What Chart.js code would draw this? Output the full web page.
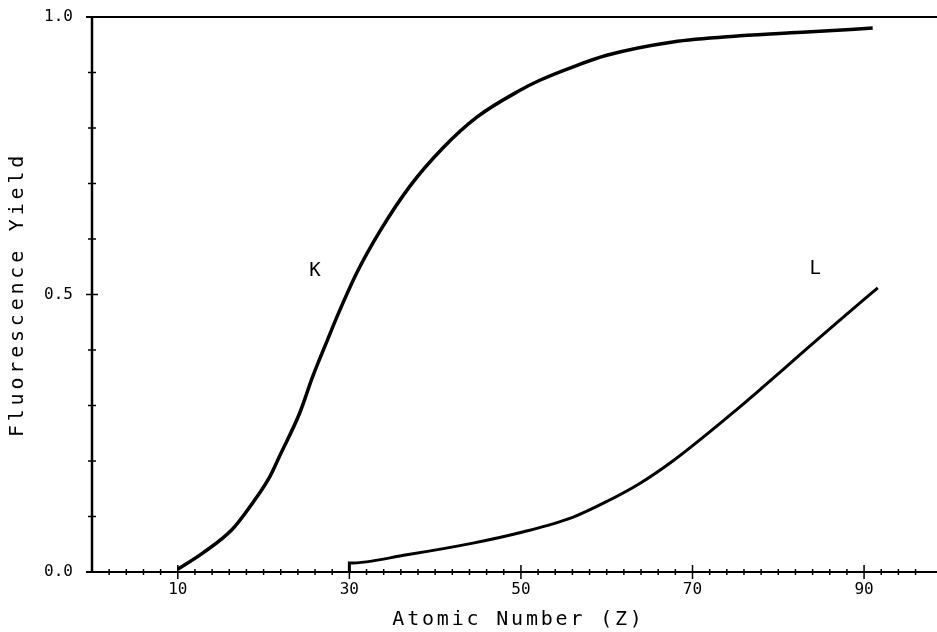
<!DOCTYPE html>
<html>
<head>
<meta charset="utf-8">
<script src="https://cdn.jsdelivr.net/npm/chart.js@4/dist/chart.umd.min.js"></script>
<style>
    html, body { margin: 0; padding: 0; background: #fff; }
    #chart { display: block; }
</style>
</head>
<body>
<canvas id="chart" width="937" height="632"></canvas>
<script>
// K-shell fluorescence yield vs atomic number
const kAtomicNumber = [10, 12.9, 16.3, 18.7, 20.7, 21.9, 24.2, 25.7, 27.5, 28.7, 30.9, 33.6, 37.0, 40.9, 44.9, 49.9, 52.2, 55.7, 60.0, 67.7, 75.5, 83.3, 91.0];
const kYield = [0.005, 0.034, 0.076, 0.124, 0.171, 0.21, 0.286, 0.351, 0.42, 0.465, 0.54, 0.615, 0.694, 0.764, 0.82, 0.868, 0.886, 0.908, 0.931, 0.955, 0.966, 0.973, 0.98];

// L-shell fluorescence yield vs atomic number
const lAtomicNumber = [30, 30, 36.7, 44.4, 50.2, 56.1, 60.0, 63.9, 67.7, 74.4, 78.2, 82.2, 86.8, 91.6];
const lYield = [0, 0.016, 0.031, 0.052, 0.072, 0.099, 0.127, 0.16, 0.2, 0.283, 0.333, 0.387, 0.449, 0.512];

// Curve labels placed in data units
const curveLabels = ['K', 'L'];
const curveLabelZ = [26, 84.3];
const curveLabelYield = [0.542, 0.546];

// Tick labels
const xTickLabels = [10, 30, 50, 70, 90];
const yTickLabels = [0, 0.5, 1];

const xTitle = 'Atomic Number (Z)';
const yTitle = 'Fluorescence Yield';

const MONO = '"DejaVu Sans Mono", "Liberation Mono", monospace';

const toPoints = (xs, ys) => xs.map((x, i) => ({ x: x, y: ys[i] }));

// Plotter-style axes: crossing tick marks, top frame line, spaced titles
const plotterAxes = {
    id: 'plotterAxes',
    beforeDatasetsDraw(chart) {
        const { ctx, chartArea, scales } = chart;
        const xs = scales.x;
        const ys = scales.y;
        ctx.save();
        ctx.strokeStyle = '#000';
        ctx.lineCap = 'butt';

        // axis lines and top frame
        ctx.lineWidth = 2.5;
        ctx.beginPath();
        ctx.moveTo(chartArea.left, chartArea.top);
        ctx.lineTo(chartArea.left, chartArea.bottom);
        ctx.stroke();
        ctx.lineWidth = 2;
        ctx.beginPath();
        ctx.moveTo(chartArea.left - 6, chartArea.bottom);
        ctx.lineTo(chartArea.right, chartArea.bottom);
        ctx.moveTo(chartArea.left - 6, chartArea.top);
        ctx.lineTo(chartArea.right, chartArea.top);
        ctx.stroke();

        // x ticks every 2, taller at labelled values
        ctx.lineWidth = 1.5;
        xs.ticks.forEach(t => {
            const v = t.value;
            if (v <= 0 || Math.abs(v / 2 - Math.round(v / 2)) > 1e-6) return;
            const px = xs.getPixelForValue(v);
            const len = xTickLabels.includes(Math.round(v)) ? 7 : 3;
            ctx.beginPath();
            ctx.moveTo(px, chartArea.bottom - len);
            ctx.lineTo(px, chartArea.bottom + len);
            ctx.stroke();
        });

        // y ticks every 0.1
        ys.ticks.forEach(t => {
            const v = Math.round(t.value * 10) / 10;
            if (v <= 0 || v >= 1) return;
            const py = ys.getPixelForValue(v);
            const len = v === 0.5 ? 6 : 4;
            ctx.beginPath();
            ctx.moveTo(chartArea.left - len, py);
            ctx.lineTo(chartArea.left + len, py);
            ctx.stroke();
        });
        ctx.restore();
    },
    afterDraw(chart) {
        const { ctx, chartArea, scales } = chart;
        ctx.save();
        ctx.fillStyle = '#000';
        ctx.textAlign = 'center';
        ctx.textBaseline = 'middle';

        // curve labels
        ctx.font = '19px ' + MONO;
        curveLabels.forEach((label, i) => {
            ctx.fillText(label, scales.x.getPixelForValue(curveLabelZ[i]), scales.y.getPixelForValue(curveLabelYield[i]));
        });

        // x axis title
        ctx.font = '20px ' + MONO;
        ctx.letterSpacing = '2.8px';
        ctx.fillText(xTitle, (chartArea.left + chartArea.right) / 2 + 4, 620);

        // y axis title, rotated
        ctx.letterSpacing = '3.8px';
        ctx.translate(18, (chartArea.top + chartArea.bottom) / 2);
        ctx.rotate(-Math.PI / 2);
        ctx.fillText(yTitle, 0, 0);
        ctx.restore();
    }
};

new Chart(document.getElementById('chart').getContext('2d'), {
    type: 'line',
    data: {
        datasets: [
            {
                label: 'K',
                data: toPoints(kAtomicNumber, kYield),
                borderColor: '#000',
                borderWidth: 3.5,
                pointRadius: 0,
                fill: false,
                cubicInterpolationMode: 'monotone'
            },
            {
                label: 'L',
                data: toPoints(lAtomicNumber, lYield),
                borderColor: '#000',
                borderWidth: 3,
                pointRadius: 0,
                fill: false,
                cubicInterpolationMode: 'monotone'
            }
        ]
    },
    options: {
        responsive: false,
        animation: false,
        devicePixelRatio: 1,
        layout: { padding: { top: 17, right: 0, left: 0, bottom: 0 } },
        plugins: {
            legend: { display: false },
            tooltip: { enabled: false }
        },
        scales: {
            x: {
                type: 'linear',
                min: 0,
                max: 98.5,
                grid: { display: false, drawTicks: false },
                border: { display: false },
                ticks: {
                    stepSize: 2,
                    autoSkip: false,
                    maxRotation: 0,
                    padding: 8,
                    color: '#000',
                    font: { family: MONO, size: 16 },
                    callback: (v) => xTickLabels.includes(v) ? String(v) : ''
                },
                afterFit: (scale) => {
                    scale.height = 60;
                    scale.paddingLeft = 0;
                    scale.paddingRight = 0;
                }
            },
            y: {
                type: 'linear',
                min: 0,
                max: 1,
                grid: { display: false, drawTicks: false },
                border: { display: false },
                ticks: {
                    stepSize: 0.1,
                    autoSkip: false,
                    padding: 19,
                    color: '#000',
                    font: { family: MONO, size: 16 },
                    callback: (v) => {
                        const r = Math.round(v * 10) / 10;
                        return yTickLabels.includes(r) ? r.toFixed(1) : '';
                    }
                },
                afterFit: (scale) => {
                    scale.width = 92;
                    scale.paddingTop = 0;
                    scale.paddingBottom = 0;
                }
            }
        }
    },
    plugins: [plotterAxes]
});
</script>
</body>
</html>
